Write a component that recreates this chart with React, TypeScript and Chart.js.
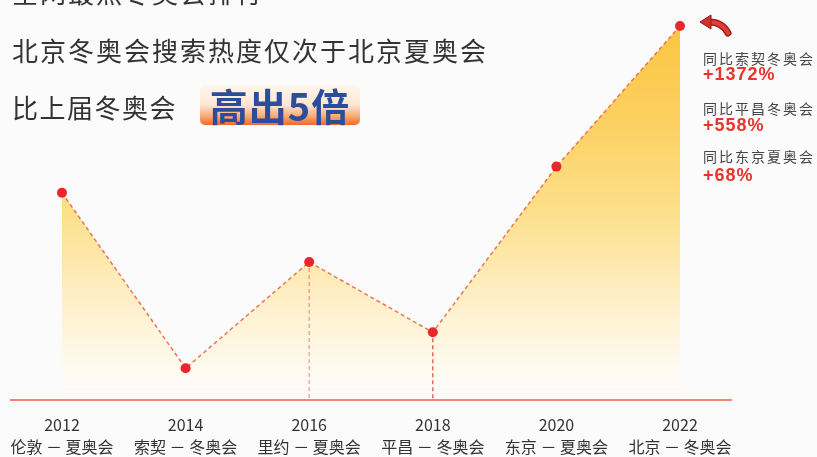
import React, { useEffect, useRef } from "react";
import { Chart, registerables } from "chart.js";

Chart.register(...registerables);

const years = ["2012", "2014", "2016", "2018", "2020", "2022"];
const games = ["伦敦 － 夏奥会", "索契 － 冬奥会", "里约 － 夏奥会", "平昌 － 冬奥会", "东京 － 夏奥会", "北京 － 冬奥会"];
const heat = [55.4, 8.5, 36.9, 18.1, 62.4, 100];
const dropLineIdx = [2, 3];
const dropLineColors = ["rgba(240,120,100,0.7)", "rgba(232,60,50,0.9)"];
const compareLabels = ["同比索契冬奥会", "同比平昌冬奥会", "同比东京夏奥会"];
const compareValues = ["+1372%", "+558%", "+68%"];

const FONT = '"Noto Sans CJK SC", "Noto Sans", sans-serif';

const decorPlugin = {
  id: "decor",
  afterDatasetsDraw(chart: any) {
    const { ctx, scales } = chart;
    const x = scales.x;
    const y = scales.y;
    const y0 = y.getPixelForValue(0);
    ctx.save();
    dropLineIdx.forEach((idx, i) => {
      const px = x.getPixelForValue(idx);
      const py = y.getPixelForValue(heat[idx]);
      ctx.beginPath();
      ctx.setLineDash([4, 3]);
      ctx.strokeStyle = dropLineColors[i];
      ctx.lineWidth = 1.3;
      ctx.moveTo(px, py + 6);
      ctx.lineTo(px, y0);
      ctx.stroke();
    });
    ctx.setLineDash([]);
    ctx.beginPath();
    ctx.strokeStyle = "#f3877a";
    ctx.lineWidth = 2;
    ctx.moveTo(x.left - 52, y0);
    ctx.lineTo(x.right + 52, y0);
    ctx.stroke();
    ctx.restore();
  },
};

function ChartCanvas() {
  const ref = useRef<HTMLCanvasElement | null>(null);
  useEffect(() => {
    if (!ref.current) return;
    const chart = new Chart(ref.current, {
      type: "line",
      data: {
        labels: years.map((yr, i) => [yr, games[i]]),
        datasets: [
          {
            data: heat,
            fill: "origin",
            clip: false as any,
            tension: 0,
            borderColor: "#ef7550",
            borderWidth: 1.5,
            borderDash: [4, 3],
            pointRadius: 5,
            pointHoverRadius: 5,
            pointBackgroundColor: "#e8262b",
            pointBorderWidth: 0,
            backgroundColor: (c: any) => {
              const area = c.chart.chartArea;
              if (!area) return "rgba(252,200,70,0.6)";
              const g = c.chart.ctx.createLinearGradient(0, area.top, 0, area.bottom);
              g.addColorStop(0, "rgba(251,197,64,1)");
              g.addColorStop(0.25, "rgba(252,208,96,1)");
              g.addColorStop(0.5, "rgba(253,224,140,1)");
              g.addColorStop(0.72, "rgba(254,238,196,1)");
              g.addColorStop(0.93, "rgba(255,250,238,0.8)");
              g.addColorStop(1, "rgba(255,255,255,0)");
              return g;
            },
          },
        ],
      },
      options: {
        responsive: false,
        animation: false,
        layout: { padding: { left: 62, right: 137, top: 26, bottom: 0 } },
        plugins: { legend: { display: false }, tooltip: { enabled: false } },
        scales: {
          x: {
            grid: { display: false, drawTicks: false },
            border: { display: false },
            afterFit: (scale: any) => {
              scale.paddingLeft = 0;
              scale.paddingRight = 0;
            },
            ticks: {
              autoSkip: false,
              maxRotation: 0,
              padding: 14,
              color: "#333",
              font: { family: FONT, size: 16, lineHeight: 22 / 16 },
            },
          },
          y: {
            display: false,
            min: 0,
            max: 100,
          },
        },
      },
      plugins: [decorPlugin],
    });
    return () => chart.destroy();
  }, []);
  return <canvas ref={ref} width={817} height={472} style={{ position: "absolute", left: 0, top: 0, width: 817, height: 472 }} />;
}

export default function App() {
  const annTops = [51, 65, 101, 116, 149, 166];
  return (
    <div
      style={{
        position: "absolute",
        left: 0,
        top: 0,
        width: 817,
        height: 457,
        overflow: "hidden",
        background: "#fbfbfb",
        fontFamily: FONT,
      }}
    >
      <ChartCanvas />
      <div style={{ position: "absolute", left: 12, top: -21, fontSize: 26, lineHeight: "26px", letterSpacing: 2, color: "#333", whiteSpace: "nowrap" }}>
        全网最热冬奥会排行
      </div>
      <div style={{ position: "absolute", left: 12, top: 37, fontSize: 26, lineHeight: "26px", letterSpacing: 2, color: "#333", whiteSpace: "nowrap" }}>
        北京冬奥会搜索热度仅次于北京夏奥会
      </div>
      <div style={{ position: "absolute", left: 12, top: 94, fontSize: 26, lineHeight: "26px", letterSpacing: 1.5, color: "#333", whiteSpace: "nowrap" }}>
        比上届冬奥会
      </div>
      <div
        style={{
          position: "absolute",
          left: 200,
          top: 85,
          width: 160,
          height: 40,
          borderRadius: 5,
          background: "linear-gradient(to bottom, #fff6ee 0%, #fde6d2 50%, #f8b07a 76%, #ee6a2c 100%)",
          color: "#2c4d9e",
          fontWeight: 700,
          fontSize: 38,
          lineHeight: "39px",
          textAlign: "center",
          letterSpacing: 1,
          whiteSpace: "nowrap",
        }}
      >
        高出5倍
      </div>
      <svg style={{ position: "absolute", left: 697, top: 12, width: 36, height: 26 }} viewBox="0 0 36 26">
        <path d="M31 21 Q25 10 12 10" fill="none" stroke="#8a1c1c" strokeWidth={7} strokeLinecap="round" />
        <path d="M31 21 Q25 10 12 10" fill="none" stroke="#e23a34" strokeWidth={4.5} strokeLinecap="round" />
        <polygon points="3,10 14,3 14,17" fill="#d42f2c" stroke="#8a1c1c" strokeWidth={1} />
      </svg>
      {compareLabels.map((lab, i) => (
        <React.Fragment key={lab}>
          <div style={{ position: "absolute", left: 703, top: annTops[i * 2], fontSize: 14, lineHeight: "14px", letterSpacing: 2, color: "#444", whiteSpace: "nowrap" }}>
            {lab}
          </div>
          <div
            style={{
              position: "absolute",
              left: 703,
              top: annTops[i * 2 + 1],
              fontFamily: '"Liberation Sans", Arial, sans-serif',
              fontWeight: 700,
              fontSize: 18,
              lineHeight: "18px",
              letterSpacing: 1,
              color: "#e8352c",
              whiteSpace: "nowrap",
            }}
          >
            {compareValues[i]}
          </div>
        </React.Fragment>
      ))}
    </div>
  );
}
